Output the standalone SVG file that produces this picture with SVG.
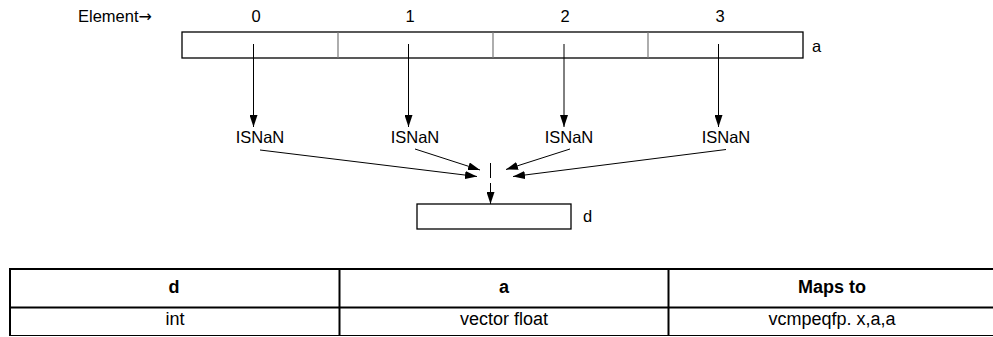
<svg xmlns="http://www.w3.org/2000/svg" width="993" height="337" viewBox="0 0 993 337">
<style>
text{font-family:"Liberation Sans",Arial,sans-serif;font-size:16.5px;fill:#000}
.c{text-anchor:middle}
.t{font-size:18px}
.b{font-weight:bold}
.box{fill:#fff;stroke:#000;stroke-width:1.3}
.div{stroke:#777;stroke-width:1.2}
.ln{stroke:#000;stroke-width:1;fill:none}
.tb{stroke:#000;stroke-width:2;fill:none}
.tt{stroke:#000;stroke-width:1.2;fill:none}
</style>
<defs>
<marker id="ah" viewBox="0 0 12 8" refX="12" refY="4" markerWidth="12" markerHeight="8" markerUnits="userSpaceOnUse" orient="auto">
<path d="M0,0 L12,4 L0,8 Z" fill="#000"/>
</marker>
</defs>
<g id="labels">
<text x="78" y="22">Element<tspan font-family="DejaVu Sans, sans-serif" font-size="16">→</tspan></text>
<text class="c" x="256" y="22">0</text>
<text class="c" x="410" y="22">1</text>
<text class="c" x="565" y="22">2</text>
<text class="c" x="720" y="22">3</text>
</g>
<g id="array-a">
<rect class="box" x="182" y="32" width="621" height="26"/>
<line class="div" x1="338" y1="32" x2="338" y2="58"/>
<line class="div" x1="493" y1="32" x2="493" y2="58"/>
<line class="div" x1="648" y1="32" x2="648" y2="58"/>
<text x="812" y="52">a</text>
</g>
<g id="isnan0"><text class="c" x="260" y="143">ISNaN</text></g>
<g id="isnan1"><text class="c" x="415" y="143">ISNaN</text></g>
<g id="isnan2"><text class="c" x="569" y="143">ISNaN</text></g>
<g id="isnan3"><text class="c" x="726" y="143">ISNaN</text></g>
<g id="or"><line class="ln" x1="490.5" y1="163" x2="490.5" y2="178"/></g>
<g id="vector-d">
<rect class="box" x="417" y="204" width="154" height="25"/>
<text x="583" y="222">d</text>
</g>
<g id="connectors">
<line class="ln" x1="253.5" y1="44" x2="253.5" y2="127" marker-end="url(#ah)"/>
<line class="ln" x1="408.5" y1="44" x2="408.5" y2="127" marker-end="url(#ah)"/>
<line class="ln" x1="564" y1="44" x2="564" y2="127" marker-end="url(#ah)"/>
<line class="ln" x1="718.5" y1="44" x2="718.5" y2="127" marker-end="url(#ah)"/>
<line class="ln" x1="260" y1="150" x2="477" y2="176.5" marker-end="url(#ah)"/>
<line class="ln" x1="415" y1="149" x2="480" y2="170" marker-end="url(#ah)"/>
<line class="ln" x1="570" y1="149" x2="506" y2="169.5" marker-end="url(#ah)"/>
<line class="ln" x1="726" y1="149.5" x2="513" y2="176.5" marker-end="url(#ah)"/>
<line class="ln" x1="490.5" y1="183" x2="490.5" y2="204" marker-end="url(#ah)"/>
</g>
<g id="table">
<line class="tb" x1="10" y1="269" x2="993" y2="269"/>
<line class="tb" x1="10" y1="307.5" x2="993" y2="307.5"/>
<line class="tt" x1="10" y1="335.5" x2="993" y2="335.5"/>
<line class="tb" x1="10" y1="268" x2="10" y2="336"/>
<line class="tb" x1="339.5" y1="268" x2="339.5" y2="336"/>
<line class="tb" x1="668.5" y1="268" x2="668.5" y2="336"/>
<text class="c b t" x="174" y="293">d</text>
<text class="c b t" x="504" y="293">a</text>
<text class="c b t" x="832" y="293">Maps to</text>
<text class="c t" x="175" y="325">int</text>
<text class="c t" x="504" y="325">vector float</text>
<text class="c t" x="832" y="325">vcmpeqfp. x,a,a</text>
</g>
</svg>
